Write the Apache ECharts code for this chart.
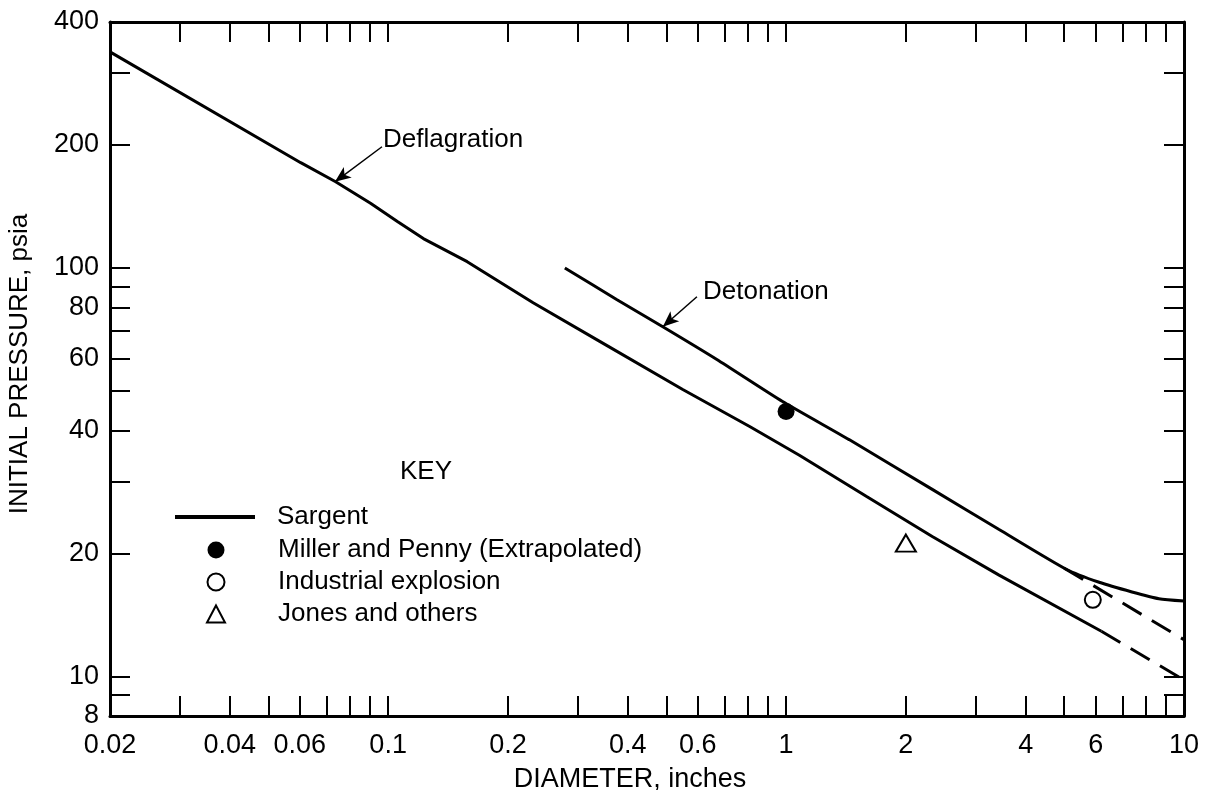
<!DOCTYPE html>
<html><head><meta charset="utf-8">
<script src="https://cdn.jsdelivr.net/npm/echarts@6/dist/echarts.min.js"></script>
<style>html,body{margin:0;padding:0;background:#fff}#c{width:1211px;height:790px}</style>
</head><body><div id="c"></div>
<script>
// ---- data ----
const xTickValues = [0.03,0.04,0.05,0.06,0.07,0.08,0.09,0.1,0.2,0.3,0.4,0.5,0.6,0.7,0.8,0.9,1,2,3,4,5,6,7,8,9];
const xLabelValues = [0.02,0.04,0.06,0.1,0.2,0.4,0.6,1,2,4,6,10];
const yTickValues = [9,10,20,30,40,50,60,70,80,90,100,200,300];
const yLabelValues = [8,10,20,40,60,80,100,200,400];

// Deflagration (lower Sargent curve), solid part
const deflagX = [0.02,0.0603,0.0738,0.0903,0.1055,0.1226,0.158,0.2314,0.341,0.55,0.81,1.08,1.59,2.33,3.43,6.2];
const deflagY = [338,181,162.5,144,130,118,103.6,82.2,66.0,50.4,40.9,34.8,27.6,22.0,17.7,12.9];
// Deflagration extrapolated (dashed)
const deflagExtX = [6.2,10];
const deflagExtY = [12.9,9.8];
// Detonation (upper Sargent curve), solid part
const detonX = [0.278,0.376,0.49,0.67,0.98,1.44,2.33,3.43,5.06,6.12,7.4,8.65,10];
const detonY = [100,83.6,71.8,59.7,47.1,38.0,28.7,22.9,18.3,17.0,16.1,15.5,15.3];
// Detonation extrapolated (dashed)
const detonExtX = [5.0,10];
const detonExtY = [18.4,12.3];
// Point data
const millerX = [1.0], millerY = [44.5];
const industrialX = [5.9], industrialY = [15.4];
const jonesX = [2.0], jonesY = [21.2];

const zip = (xs, ys) => xs.map((x, i) => [x, ys[i]]);
const FONT = 'Liberation Sans, Arial, Helvetica, sans-serif';
const fmt = v => String(+(+v).toPrecision(4));

const baseAxis = {
  type: 'log', logBase: 10,
  axisLine: { show: true, lineStyle: { color: '#000', width: 3 } },
  axisTick: { show: true, inside: true, length: 20, lineStyle: { color: '#000', width: 2 } },
  splitLine: { show: false },
  minorTick: { show: false }
};

const chart = echarts.init(document.getElementById('c'), null, { renderer: 'canvas' });
chart.setOption({
  backgroundColor: '#fff',
  animation: false,
  textStyle: { fontFamily: FONT },
  grid: { left: 110, right: 27, top: 22, bottom: 74, containLabel: false, outerBoundsMode: 'none' },
  xAxis: [
    Object.assign({}, baseAxis, {
      position: 'bottom', min: 0.02, max: 10,
      axisTick: Object.assign({}, baseAxis.axisTick, { customValues: xTickValues }),
      axisLabel: { show: true, customValues: xLabelValues, formatter: fmt, fontSize: 27, color: '#000', fontFamily: FONT, margin: 16 },
      name: 'DIAMETER, inches', nameLocation: 'middle', nameGap: 50,
      nameTextStyle: { fontSize: 27, color: '#000', fontFamily: FONT, padding: [0, 34, 0, 0] }
    }),
    Object.assign({}, baseAxis, {
      position: 'top', min: 0.02, max: 10,
      axisTick: Object.assign({}, baseAxis.axisTick, { customValues: xTickValues }),
      axisLabel: { show: false }
    })
  ],
  yAxis: [
    Object.assign({}, baseAxis, {
      position: 'left', min: 8, max: 400,
      axisTick: Object.assign({}, baseAxis.axisTick, { customValues: yTickValues }),
      axisLabel: { show: true, customValues: yLabelValues, formatter: fmt, fontSize: 27, color: '#000', fontFamily: FONT, margin: 11 },
      name: 'INITIAL PRESSURE, psia', nameLocation: 'middle', nameGap: 77,
      nameTextStyle: { fontSize: 26, color: '#000', fontFamily: FONT, padding: [0, 0, 0, 10] }
    }),
    Object.assign({}, baseAxis, {
      position: 'right', min: 8, max: 400,
      axisTick: Object.assign({}, baseAxis.axisTick, { customValues: yTickValues }),
      axisLabel: { show: false }
    })
  ],
  legend: [
    {
      orient: 'vertical', left: 175, top: 504, padding: 0, itemWidth: 80, itemHeight: 18, itemGap: 6,
      selectedMode: false, symbolKeepAspect: true,
      textStyle: { fontSize: 26, color: '#000', fontFamily: FONT, padding: [0, 0, 0, 17] },
      data: [{ name: 'Sargent', icon: 'path://M0,0L80,0L80,4L0,4Z' }]
    },
    {
      orient: 'vertical', left: 206, top: 537, padding: 0, itemWidth: 18, itemHeight: 17, itemGap: 6,
      selectedMode: false,
      textStyle: { fontSize: 26, color: '#000', fontFamily: FONT, padding: [0, 0, 0, 48] },
      data: ['Miller and Penny (Extrapolated)', 'Industrial explosion', 'Jones and others']
    }
  ],
  graphic: [
    { type: 'text', x: 383, y: 140, style: { text: 'Deflagration', fontSize: 26, fontFamily: FONT, fill: '#000', verticalAlign: 'middle' } },
    { type: 'text', x: 703, y: 292, style: { text: 'Detonation', fontSize: 26, fontFamily: FONT, fill: '#000', verticalAlign: 'middle' } },
    { type: 'text', x: 400, y: 472, style: { text: 'KEY', fontSize: 26, fontFamily: FONT, fill: '#000', verticalAlign: 'middle' } }
  ],
  series: [
    {
      name: 'Sargent', type: 'line', data: zip(deflagX, deflagY), showSymbol: false, symbol: 'none',
      smooth: false, lineStyle: { color: '#000', width: 3 }, itemStyle: { color: '#000' }, z: 3,
      markLine: {
        silent: true, symbol: ['none', 'arrow'], symbolSize: [10, 16], animation: false,
        lineStyle: { color: '#000', width: 1.5, type: 'solid' }, label: { show: false },
        data: [
          [{ coord: [0.0965, 198] }, { coord: [0.0735, 162.5] }],
          [{ coord: [0.597, 85.0] }, { coord: [0.49, 71.8] }]
        ]
      }
    },
    {
      name: 'Sargent', type: 'line', data: zip(detonX, detonY), showSymbol: false, symbol: 'none',
      smooth: 0.2, lineStyle: { color: '#000', width: 3 }, itemStyle: { color: '#000' }, z: 3
    },
    {
      name: 'Sargent (extrapolated)', type: 'line', data: zip(deflagExtX, deflagExtY), showSymbol: false, symbol: 'none',
      lineStyle: { color: '#000', width: 3, type: [22, 12] }, z: 3
    },
    {
      name: 'Sargent (extrapolated)', type: 'line', data: zip(detonExtX, detonExtY), showSymbol: false, symbol: 'none',
      lineStyle: { color: '#000', width: 3, type: [22, 12] }, z: 3
    },
    {
      name: 'Miller and Penny (Extrapolated)', type: 'scatter', data: zip(millerX, millerY),
      symbol: 'circle', symbolSize: 17, itemStyle: { color: '#000', opacity: 1 }, z: 4
    },
    {
      name: 'Industrial explosion', type: 'scatter', data: zip(industrialX, industrialY),
      symbol: 'circle', symbolSize: 16,
      itemStyle: { color: '#fff', borderColor: '#000', borderWidth: 2, opacity: 1 }, z: 4
    },
    {
      name: 'Jones and others', type: 'scatter', data: zip(jonesX, jonesY),
      symbol: 'triangle', symbolSize: [20, 17],
      itemStyle: { color: '#fff', borderColor: '#000', borderWidth: 2, opacity: 1 }, z: 4
    }
  ]
});
</script>
</body></html>
